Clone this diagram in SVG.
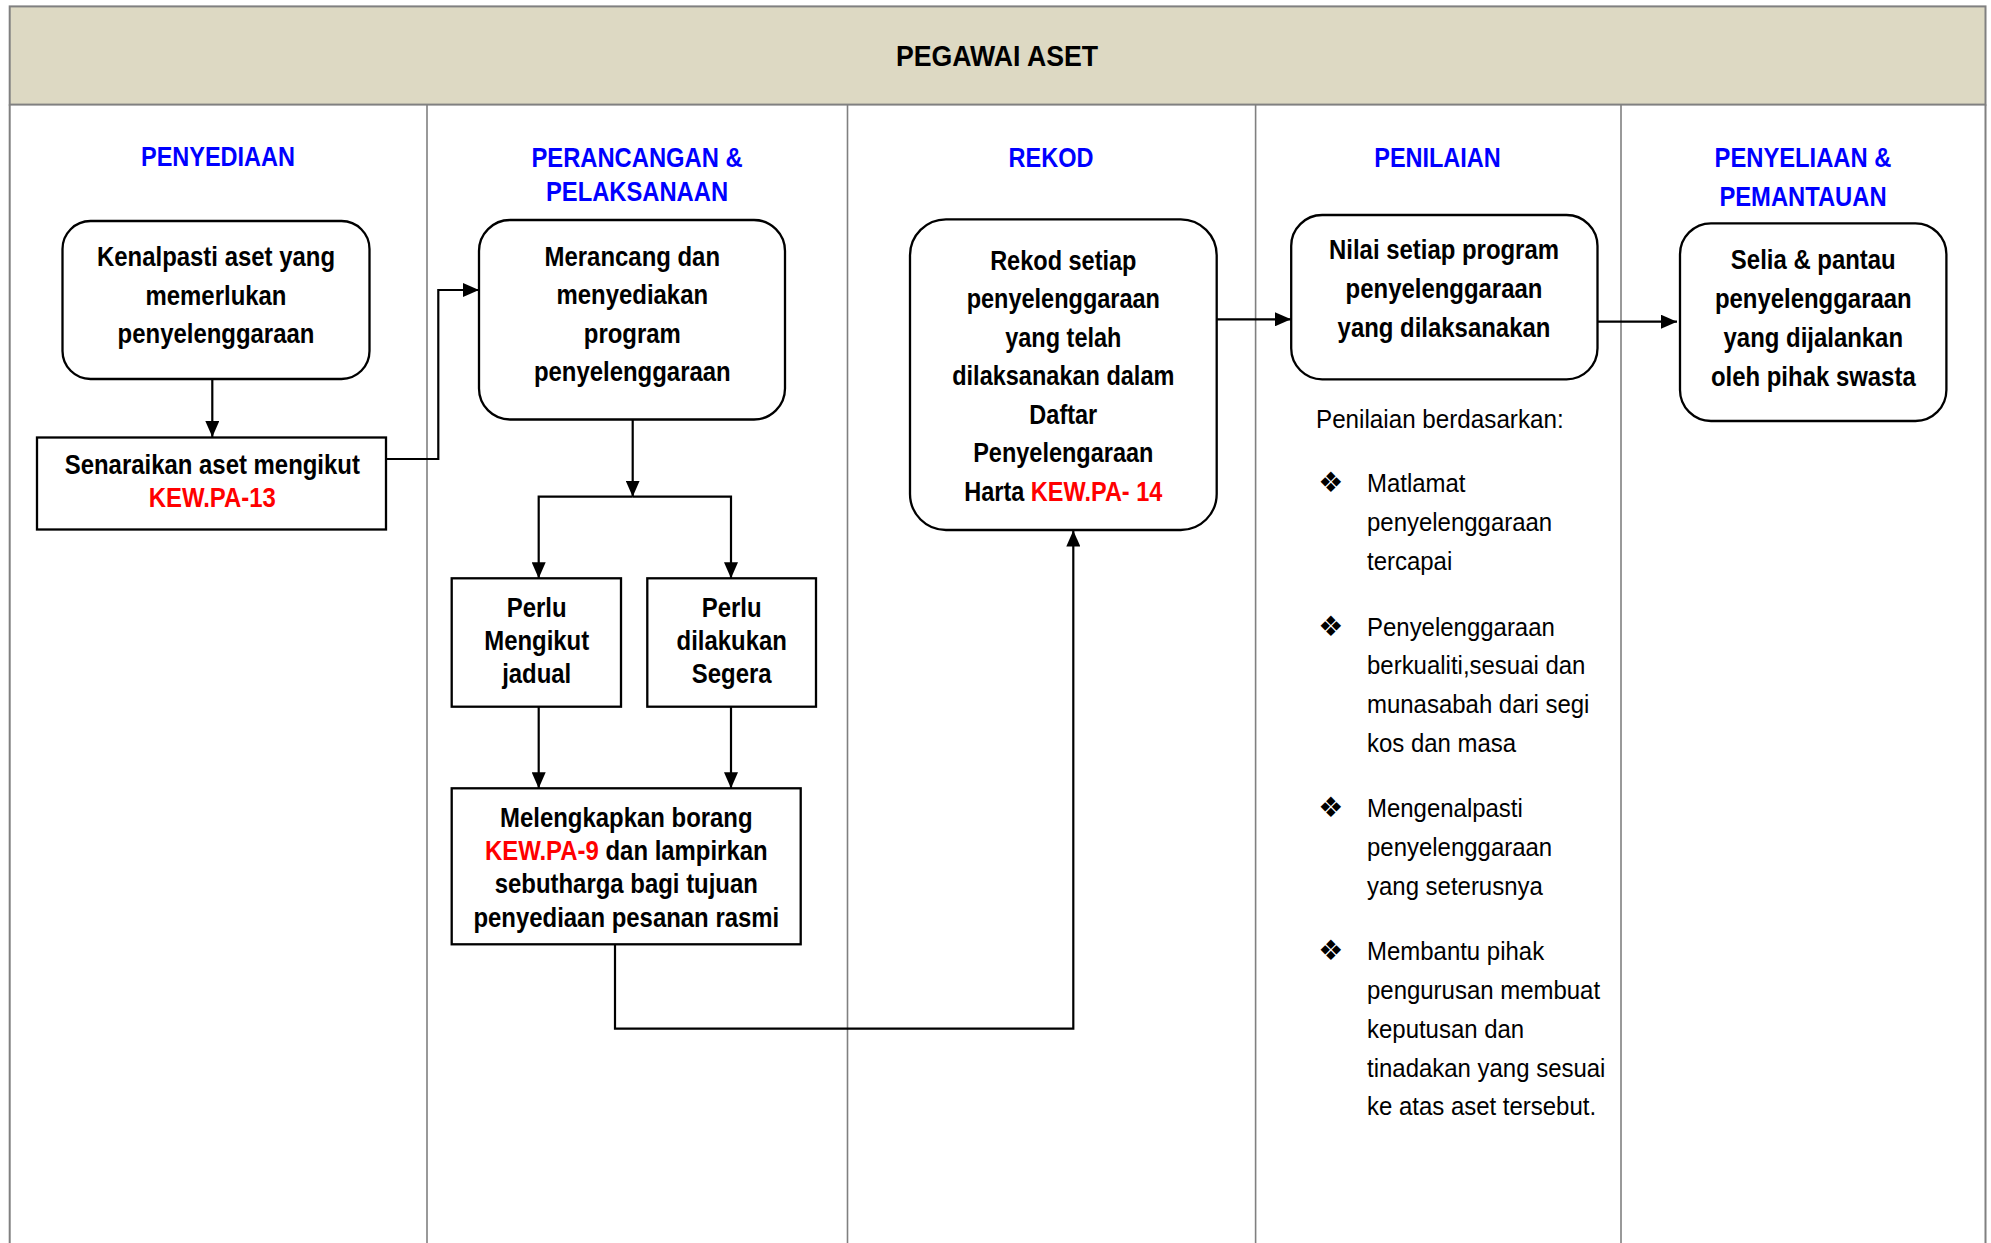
<svg xmlns="http://www.w3.org/2000/svg" width="1991" height="1243" viewBox="0 0 1991 1243">
<defs>
<marker id="arr" markerUnits="userSpaceOnUse" markerWidth="16" markerHeight="14" refX="16" refY="7" orient="auto">
<path d="M0,0 L16,7 L0,14 z" fill="#000"/>
</marker>
<style>
.frame{fill:none;stroke:#808080;stroke-width:2}
.lane{stroke:#808080;stroke-width:1.6}
.box{fill:#fff;stroke:#000;stroke-width:2.3}
.t{font-family:"Liberation Sans",Arial,sans-serif;font-weight:bold;font-size:28px;fill:#000;text-anchor:middle}
.h{font-family:"Liberation Sans",Arial,sans-serif;font-weight:bold;font-size:27px;fill:#0000FF;text-anchor:middle}
.n{font-family:"Liberation Sans",Arial,sans-serif;font-size:25.5px;fill:#000}
.b{font-family:"DejaVu Sans",sans-serif;font-size:28px;fill:#000;text-anchor:middle}
.red{fill:#FF0000}
.c{fill:none;stroke:#000;stroke-width:2.2}
</style>
</defs>
<rect width="1991" height="1243" fill="#fff"/>
<g id="frame">
<rect x="9.7" y="6.4" width="1975.8" height="98.2" fill="#DDD9C3" stroke="#808080" stroke-width="2"/>
<path class="frame" d="M9.7 104.6 V1243 M1985.5 104.6 V1243"/>
<path class="lane" d="M427 104.6 V1243 M847.5 104.6 V1243 M1255.6 104.6 V1243 M1621 104.6 V1243"/>
<g transform="translate(997,0) scale(0.92,1)"><text class="t" x="0" y="66" style="font-size:29px">PEGAWAI ASET</text></g>
</g>
<g id="lane-headings">
<g transform="translate(218,0) scale(0.87,1)"><text class="h" x="0" y="166.5">PENYEDIAAN</text></g>
<g transform="translate(637,0) scale(0.88,1)"><text class="h" x="0" y="166.7">PERANCANGAN &amp;</text><text class="h" x="0" y="200.7">PELAKSANAAN</text></g>
<g transform="translate(1051,0) scale(0.87,1)"><text class="h" x="0" y="166.7">REKOD</text></g>
<g transform="translate(1437.5,0) scale(0.87,1)"><text class="h" x="0" y="166.7">PENILAIAN</text></g>
<g transform="translate(1803,0) scale(0.88,1)"><text class="h" x="0" y="166.7">PENYELIAAN &amp;</text><text class="h" x="0" y="206">PEMANTAUAN</text></g>
</g>
<g id="connectors">
<path class="c" d="M212.3 379.3 V437" marker-end="url(#arr)"/>
<path class="c" d="M386 459 H438.3 V290 H479" marker-end="url(#arr)"/>
<path class="c" d="M632.7 419.3 V496.7" marker-end="url(#arr)"/>
<path class="c" d="M632.7 496.7 H538.7 V578.3" marker-end="url(#arr)"/>
<path class="c" d="M632.7 496.7 H731 V578.3" marker-end="url(#arr)"/>
<path class="c" d="M538.7 706.7 V788.3" marker-end="url(#arr)"/>
<path class="c" d="M731 706.7 V788.3" marker-end="url(#arr)"/>
<path class="c" d="M615 944.3 V1028.6 H1073.3 V530.5" marker-end="url(#arr)"/>
<path class="c" d="M1216.7 319.3 H1291" marker-end="url(#arr)"/>
<path class="c" d="M1597.5 321.7 H1677" marker-end="url(#arr)"/>
</g>
<g id="kenalpasti">
<rect class="box" x="62.5" y="221" width="307" height="158" rx="28"/>
<g transform="translate(216,0) scale(0.855,1)"><text class="t" x="0" y="266">Kenalpasti aset yang</text><text class="t" x="0" y="305">memerlukan</text><text class="t" x="0" y="343.5">penyelenggaraan</text></g>
</g>
<g id="senaraikan">
<rect class="box" x="37" y="437.5" width="349" height="92"/>
<g transform="translate(212.3,0) scale(0.855,1)"><text class="t" x="0" y="474.3">Senaraikan aset mengikut</text><text class="t red" x="0" y="506.7">KEW.PA-13</text></g>
</g>
<g id="merancang">
<rect class="box" x="479" y="220" width="306" height="199.5" rx="31"/>
<g transform="translate(632.3,0) scale(0.855,1)"><text class="t" x="0" y="266">Merancang dan</text><text class="t" x="0" y="304.3">menyediakan</text><text class="t" x="0" y="342.7">program</text><text class="t" x="0" y="380.7">penyelenggaraan</text></g>
</g>
<g id="perlu-jadual">
<rect class="box" x="451.7" y="578.3" width="169.3" height="128.4"/>
<g transform="translate(536.7,0) scale(0.855,1)"><text class="t" x="0" y="616.7">Perlu</text><text class="t" x="0" y="650">Mengikut</text><text class="t" x="0" y="683.3">jadual</text></g>
</g>
<g id="perlu-segera">
<rect class="box" x="647.3" y="578.3" width="168.7" height="128.4"/>
<g transform="translate(731.7,0) scale(0.855,1)"><text class="t" x="0" y="616.7">Perlu</text><text class="t" x="0" y="650">dilakukan</text><text class="t" x="0" y="683.3">Segera</text></g>
</g>
<g id="melengkapkan">
<rect class="box" x="451.7" y="788.3" width="349" height="156"/>
<g transform="translate(626.3,0) scale(0.855,1)"><text class="t" x="0" y="826.7">Melengkapkan borang</text><text class="t" x="0" y="860"><tspan class="red">KEW.PA-9</tspan> dan lampirkan</text><text class="t" x="0" y="893.3">sebutharga bagi tujuan</text><text class="t" x="0" y="926.7">penyediaan pesanan rasmi</text></g>
</g>
<g id="rekod">
<rect class="box" x="910" y="219.3" width="306.7" height="310.7" rx="36"/>
<g transform="translate(1063.3,0) scale(0.84,1)"><text class="t" x="0" y="270">Rekod setiap</text><text class="t" x="0" y="308.5">penyelenggaraan</text><text class="t" x="0" y="347">yang telah</text><text class="t" x="0" y="385.5">dilaksanakan dalam</text><text class="t" x="0" y="424">Daftar</text><text class="t" x="0" y="462.5">Penyelengaraan</text><text class="t" x="0" y="501.5">Harta <tspan class="red">KEW.PA- 14</tspan></text></g>
</g>
<g id="nilai">
<rect class="box" x="1291.2" y="215" width="306.3" height="164.3" rx="31"/>
<g transform="translate(1444,0) scale(0.855,1)"><text class="t" x="0" y="259">Nilai setiap program</text><text class="t" x="0" y="298">penyelenggaraan</text><text class="t" x="0" y="337">yang dilaksanakan</text></g>
</g>
<g id="selia">
<rect class="box" x="1680" y="223.3" width="266.4" height="197.7" rx="31"/>
<g transform="translate(1813.3,0) scale(0.855,1)"><text class="t" x="0" y="269">Selia &amp; pantau</text><text class="t" x="0" y="308">penyelenggaraan</text><text class="t" x="0" y="346.7">yang dijalankan</text><text class="t" x="0" y="385.7">oleh pihak swasta</text></g>
</g>
<g id="penilaian-notes">
<g transform="translate(1316,0) scale(0.95,1)"><text class="n" x="0" y="428.5">Penilaian berdasarkan:</text></g>
<text class="b" x="1330.7" y="492">❖</text>
<text class="b" x="1330.7" y="635.5">❖</text>
<text class="b" x="1330.7" y="816.5">❖</text>
<text class="b" x="1330.7" y="959.5">❖</text>
<g transform="translate(1367,0) scale(0.94,1)">
<text class="n" x="0" y="492.5">Matlamat</text>
<text class="n" x="0" y="531.5">penyelenggaraan</text>
<text class="n" x="0" y="570.5">tercapai</text>
<text class="n" x="0" y="636">Penyelenggaraan</text>
<text class="n" x="0" y="674.5">berkualiti,sesuai dan</text>
<text class="n" x="0" y="713">munasabah dari segi</text>
<text class="n" x="0" y="752">kos dan masa</text>
<text class="n" x="0" y="817">Mengenalpasti</text>
<text class="n" x="0" y="856">penyelenggaraan</text>
<text class="n" x="0" y="895">yang seterusnya</text>
<text class="n" x="0" y="960">Membantu pihak</text>
<text class="n" x="0" y="999">pengurusan membuat</text>
<text class="n" x="0" y="1038.5">keputusan dan</text>
<text class="n" x="0" y="1077">tinadakan yang sesuai</text>
<text class="n" x="0" y="1115.5">ke atas aset tersebut.</text>
</g>
</g>
</svg>
